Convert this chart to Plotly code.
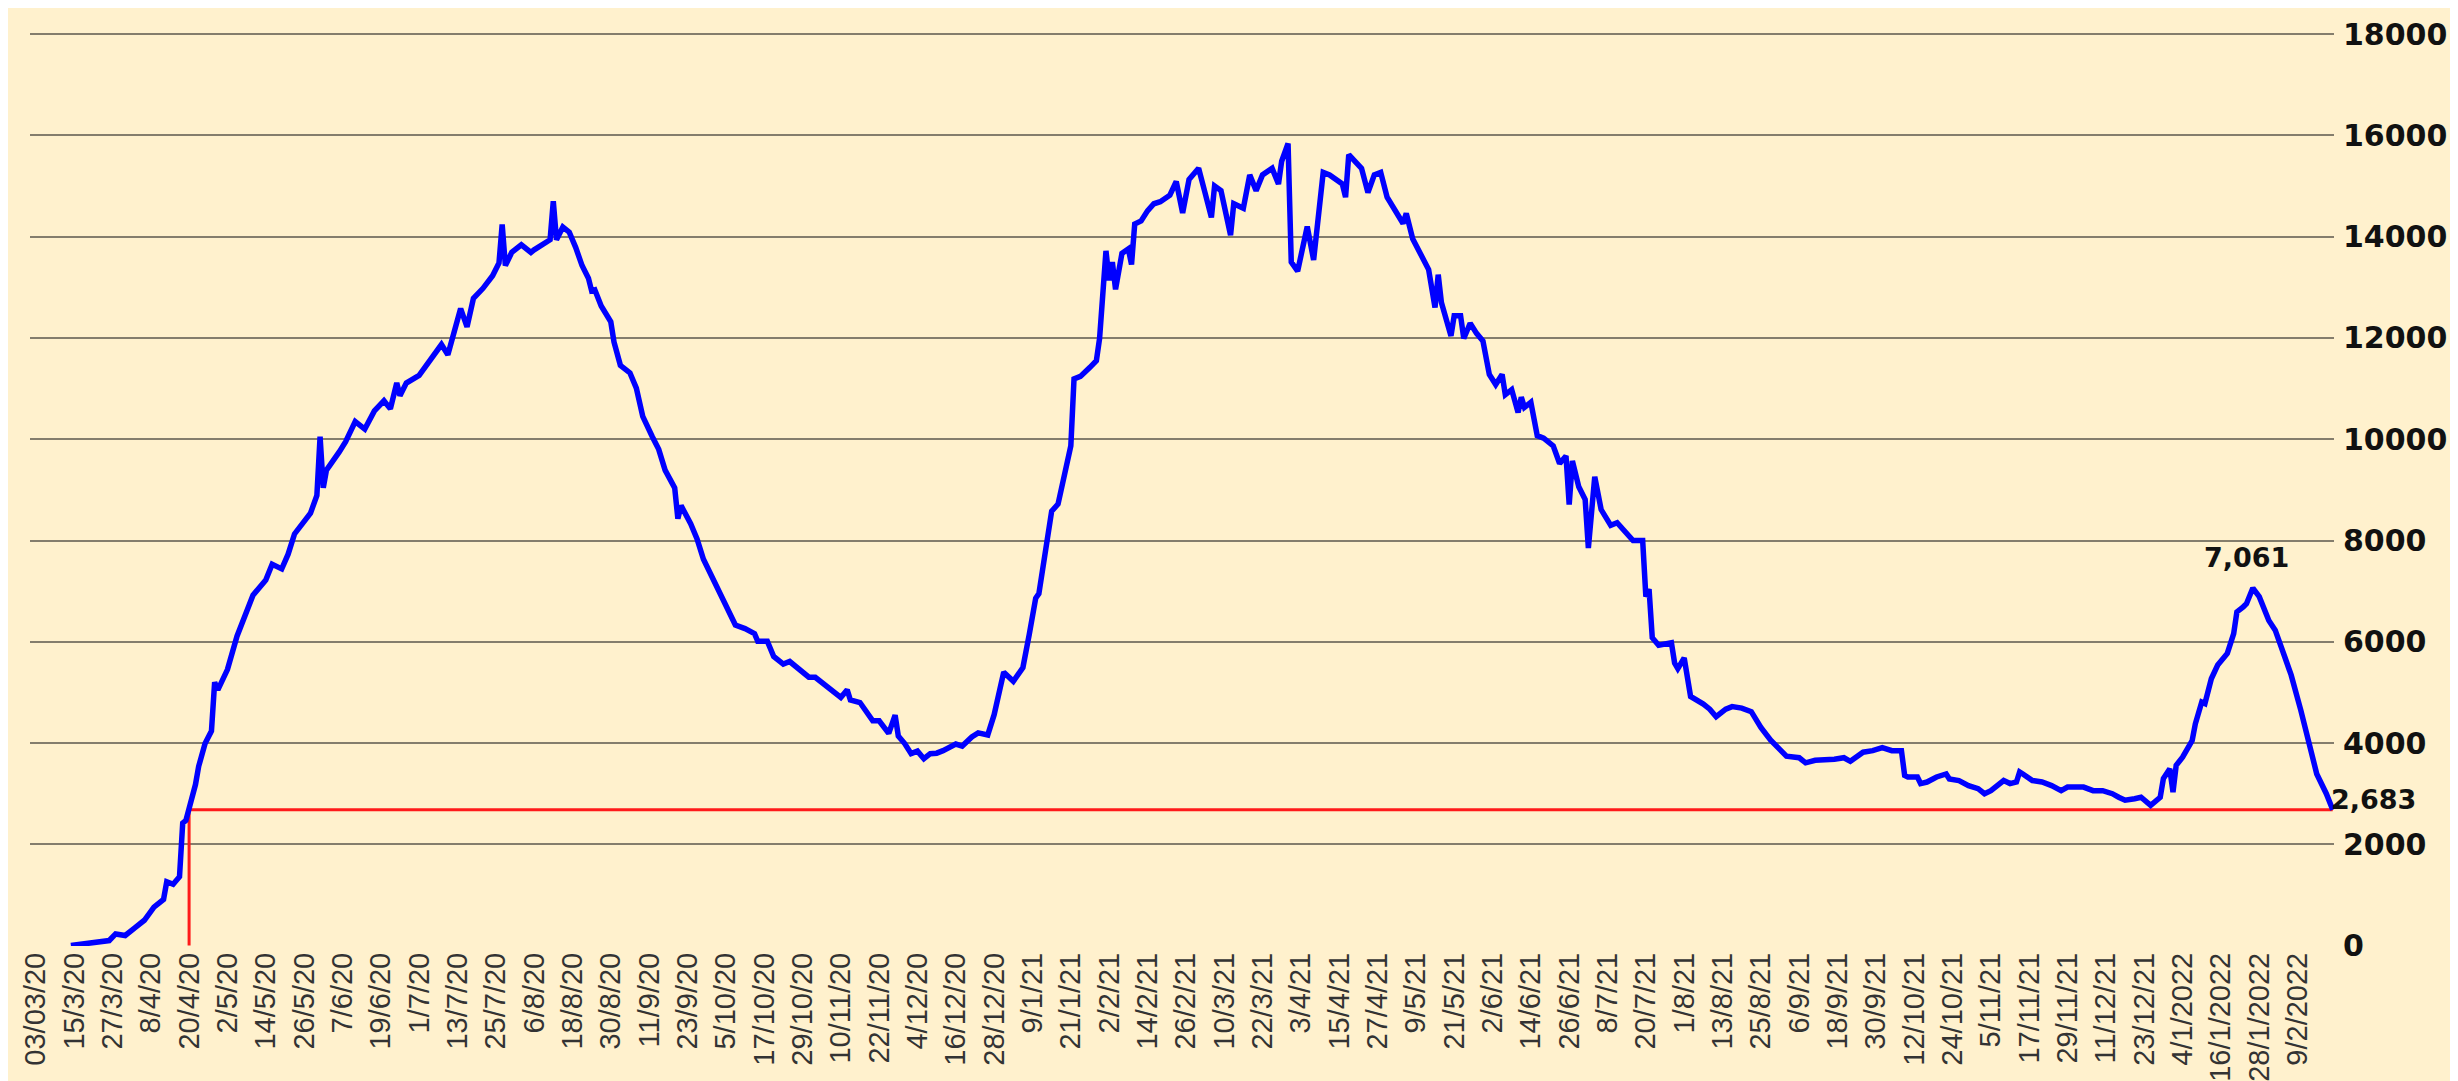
import plotly.graph_objects as go

# day offsets from 03/03/2020 and values
days = [11,18,23,25,28,31,34,37,40,41,43,45,46,47,48,50,51,53,55,56,57,60,63,66,68,72,74,77,79,81,84,86,88,89,90,91,95,97,100,103,106,109,111,113,114,116,120,124,127,129,133,135,137,140,143,145,146,147,149,152,155,156,160,161,162,163,165,167,169,171,173,174,175,177,180,181,183,186,188,190,193,195,197,200,201,202,205,207,209,213,216,219,222,225,226,229,231,234,236,239,242,244,248,252,254,255,258,262,264,267,269,270,272,274,276,278,280,282,284,288,290,293,295,298,300,303,306,309,311,313,314,316,318,320,322,324,325,327,330,332,333,334,335,336,337,338,340,342,343,344,346,348,350,352,355,357,359,361,364,366,368,369,371,374,375,378,380,382,384,387,389,390,392,393,395,398,400,403,405,409,410,411,415,417,419,421,423,428,429,431,434,436,438,439,440,443,444,446,447,449,451,453,455,457,459,460,462,464,465,466,468,470,472,475,477,479,480,481,483,485,486,487,488,490,493,495,497,500,503,504,505,506,508,512,513,514,516,518,522,524,526,529,531,534,537,540,543,546,548,552,554,557,560,563,566,568,572,575,578,581,584,585,586,589,590,592,595,598,599,602,605,608,610,612,616,618,620,621,622,625,628,631,634,636,641,644,647,650,652,654,657,659,662,665,666,668,669,670,672,675,676,678,679,681,683,686,688,689,691,692,694,696,699,701,704,706,709,712,714,717,719]
values = [0,50,100,230,200,350,500,760,910,1260,1210,1360,2420,2470,2683,3180,3540,3990,4240,5200,5050,5450,6110,6570,6920,7220,7530,7440,7730,8130,8380,8540,8890,10050,9040,9390,9750,9950,10350,10200,10560,10760,10600,11110,10860,11110,11260,11620,11870,11670,12580,12220,12780,12980,13230,13480,14240,13430,13690,13840,13690,13740,13890,13940,14700,13940,14190,14090,13790,13430,13180,12930,12950,12630,12320,11920,11460,11310,11010,10450,10050,9800,9390,9040,8430,8690,8330,8030,7630,7120,6770,6330,6260,6160,6010,6010,5710,5560,5610,5450,5300,5300,5100,4900,5050,4850,4800,4440,4440,4190,4550,4140,3990,3790,3840,3690,3790,3800,3850,3980,3940,4120,4200,4160,4560,5400,5220,5490,6150,6860,6950,7830,8580,8720,9340,9870,11190,11240,11420,11550,11990,12880,13720,13140,13500,12960,13670,13760,13450,14250,14310,14510,14650,14690,14820,15090,14470,15130,15350,14870,14380,15000,14910,14030,14650,14560,15220,14910,15220,15350,15040,15490,15840,13500,13320,14200,13540,15270,15220,15040,14780,15620,15350,14870,15220,15270,14780,14260,14460,13960,13560,13350,12600,13250,12700,12040,12440,12440,11990,12290,12090,11940,11280,11080,11280,10880,10980,10530,10830,10630,10730,10070,10020,9870,9520,9670,8710,9570,9060,8810,7850,8510,9260,8610,8300,8350,8200,8000,8000,6890,7040,6080,5930,5980,5580,5470,5680,4920,4770,4670,4520,4670,4720,4690,4620,4310,4060,3860,3740,3710,3610,3660,3660,3680,3710,3640,3820,3850,3910,3850,3850,3360,3330,3330,3200,3230,3330,3390,3290,3260,3160,3100,3000,3060,3260,3200,3230,3430,3390,3260,3230,3160,3060,3130,3130,3060,3060,3000,2930,2870,2900,2930,2770,2930,3300,3490,3030,3560,3720,4050,4380,4810,4780,5270,5540,5770,6160,6590,6690,6750,7061,6890,6420,6230,5700,5340,4650,3860,3390,3000,2683]

tick_labels = ["03/03/20","15/3/20","27/3/20","8/4/20","20/4/20","2/5/20","14/5/20","26/5/20","7/6/20","19/6/20",
               "1/7/20","13/7/20","25/7/20","6/8/20","18/8/20","30/8/20","11/9/20","23/9/20","5/10/20","17/10/20",
               "29/10/20","10/11/20","22/11/20","4/12/20","16/12/20","28/12/20","9/1/21","21/1/21","2/2/21","14/2/21",
               "26/2/21","10/3/21","22/3/21","3/4/21","15/4/21","27/4/21","9/5/21","21/5/21","2/6/21","14/6/21",
               "26/6/21","8/7/21","20/7/21","1/8/21","13/8/21","25/8/21","6/9/21","18/9/21","30/9/21","12/10/21",
               "24/10/21","5/11/21","17/11/21","29/11/21","11/12/21","23/12/21","4/1/2022","16/1/2022","28/1/2022","9/2/2022"]
tick_step = 12

# reference level: same value as the latest day, first reached on 20/4/20
ref_day = 48
ref_value = 2683
peak_day = 694
peak_value = 7061
last_day = 719
last_value = 2683

tick_vals = [i * tick_step for i in range(len(tick_labels))]

fig = go.Figure()
fig.add_trace(go.Scatter(x=[ref_day, ref_day, last_day], y=[0, ref_value, ref_value],
                         mode="lines", line=dict(color="#ff1a1a", width=3), hoverinfo="skip"))
fig.add_trace(go.Scatter(x=days, y=values, mode="lines",
                         line=dict(color="#0000ff", width=5.5)))

fig.add_annotation(x=peak_day, y=peak_value, text="7,061", showarrow=False,
                   yanchor="bottom", yshift=13, xshift=-6,
                   font=dict(family="DejaVu Sans", size=27, color="#111111", weight="bold"))
fig.add_annotation(x=last_day, y=last_value, text="2,683", showarrow=False,
                   xanchor="left", yanchor="middle", yshift=10, xshift=-4,
                   font=dict(family="DejaVu Sans", size=27, color="#111111", weight="bold"))

bg = "#fff1cd"
fig.update_layout(
    width=2458, height=1081,
    margin=dict(l=22, r=132, t=16, b=143, autoexpand=False),
    paper_bgcolor=bg, plot_bgcolor=bg,
    showlegend=False,
    xaxis=dict(range=[-1.8, 719.4], tickmode="array", tickvals=tick_vals, ticktext=tick_labels,
               tickangle=-90, showgrid=False, zeroline=False, showline=False, ticks="",
               automargin=False,
               tickfont=dict(family="Liberation Sans", size=29, color="#333333")),
    yaxis=dict(range=[-8, 18200], side="right", tickmode="linear", tick0=0, dtick=2000,
               tickformat="d", showgrid=True, automargin=False,
               gridcolor="#847d6c", gridwidth=2, zeroline=False, showline=False, ticks="",
               ticklabelstandoff=8,
               tickfont=dict(family="DejaVu Sans", size=30, color="#111111", weight="bold")),
)

fig.write_html("out.html")
